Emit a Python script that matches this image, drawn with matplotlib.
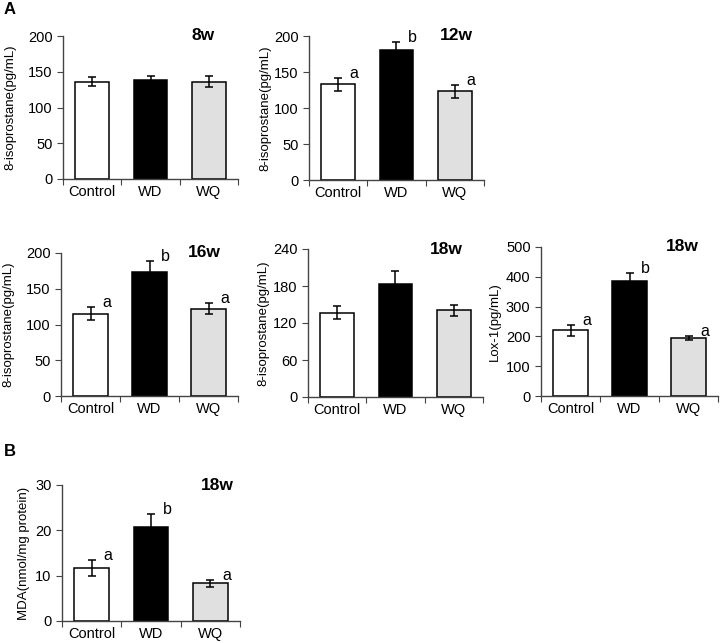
import matplotlib
matplotlib.use('Agg')
import matplotlib.pyplot as plt

plt.rcParams['font.family'] = ['Liberation Sans', 'DejaVu Sans']

groups = ['Control', 'WD', 'WQ']
bar_colors = ['white', 'black', '#e0e0e0']

# panel A, 8-isoprostane over time
iso_8w = [136, 139, 136]
iso_8w_err = [6, 5, 8]
iso_12w = [133, 180, 123]
iso_12w_err = [9, 12, 9]
iso_16w = [115, 174, 122]
iso_16w_err = [9, 15, 8]
iso_18w = [137, 183, 141]
iso_18w_err = [11, 22, 9]
# panel A, Lox-1 at 18w
lox_18w = [220, 385, 194]
lox_18w_err = [17, 28, 6]
# panel B, MDA at 18w
mda_18w = [11.7, 20.7, 8.3]
mda_18w_err = [1.8, 2.8, 0.7]

W, H = 720, 643
fig = plt.figure(figsize=(W / 100, H / 100), dpi=100)


def add_panel(box, values, errors, ymax, ystep, ylabel, title, title_x, letters=None, lpad=4):
    left, top, right, bottom = box
    ax = fig.add_axes([left / W, 1 - bottom / H, (right - left) / W, (bottom - top) / H])
    x = range(len(groups))
    ax.bar(x, values, width=0.58, color=bar_colors, edgecolor='black', linewidth=1.1, zorder=2)
    ax.errorbar(x, values, yerr=errors, fmt='none', ecolor='black', elinewidth=1.1,
                capsize=3, capthick=1.1, zorder=3)
    ax.set_xlim(-0.5, 2.5)
    ax.set_ylim(0, ymax)
    ax.set_yticks(range(0, int(ymax) + 1, ystep))
    # excel style: ticks between categories, labels centred without ticks
    ax.set_xticks([-0.5, 0.5, 1.5, 2.5])
    ax.set_xticklabels([])
    ax.set_xticks([0, 1, 2], minor=True)
    ax.set_xticklabels(groups, minor=True)
    ax.tick_params(axis='x', which='major', direction='out', length=4, color='#444444')
    ax.tick_params(axis='x', which='minor', length=0, pad=4.5, labelsize=10.5)
    ax.tick_params(axis='y', direction='out', length=4, color='#444444', labelsize=10.5)
    for s in ['top', 'right']:
        ax.spines[s].set_visible(False)
    for s in ['left', 'bottom']:
        ax.spines[s].set_color('#444444')
        ax.spines[s].set_linewidth(1.0)
    ax.set_ylabel(ylabel, fontsize=9.5, labelpad=lpad)
    ax.text(title_x, 1.0, title, transform=ax.transAxes, ha='center', va='center',
            fontsize=12.5, fontweight='bold')
    if letters:
        for i, lab in enumerate(letters):
            ax.text(i + 0.27, values[i] + errors[i], lab, ha='center', va='baseline',
                    fontsize=11.5)
    return ax


iso_label = '8-isoprostane(pg/mL)'
add_panel((63, 36, 238, 179), iso_8w, iso_8w_err, 200, 50, iso_label, '8w', 0.80, lpad=8)
add_panel((309, 36, 484, 180), iso_12w, iso_12w_err, 200, 50, iso_label, '12w', 0.84, ['a', 'b', 'a'], lpad=2)
add_panel((61, 253, 238, 396), iso_16w, iso_16w_err, 200, 50, iso_label, '16w', 0.81, ['a', 'b', 'a'], lpad=8)
add_panel((308, 249, 483, 397), iso_18w, iso_18w_err, 240, 60, iso_label, '18w', 0.79, lpad=3)
add_panel((541, 247, 718, 396), lox_18w, lox_18w_err, 500, 100, 'Lox-1(pg/mL)', '18w', 0.80, ['a', 'b', 'a'])
add_panel((62, 485, 240, 621), mda_18w, mda_18w_err, 30, 10, 'MDA(nmol/mg protein)', '18w', 0.87, ['a', 'b', 'a'])

fig.text(4 / W, 1 - 10 / H, 'A', fontsize=12, fontweight='bold', ha='left', va='center')
fig.text(4 / W, 1 - 452 / H, 'B', fontsize=12, fontweight='bold', ha='left', va='center')

fig.savefig('out.png', dpi=100, facecolor='white')
